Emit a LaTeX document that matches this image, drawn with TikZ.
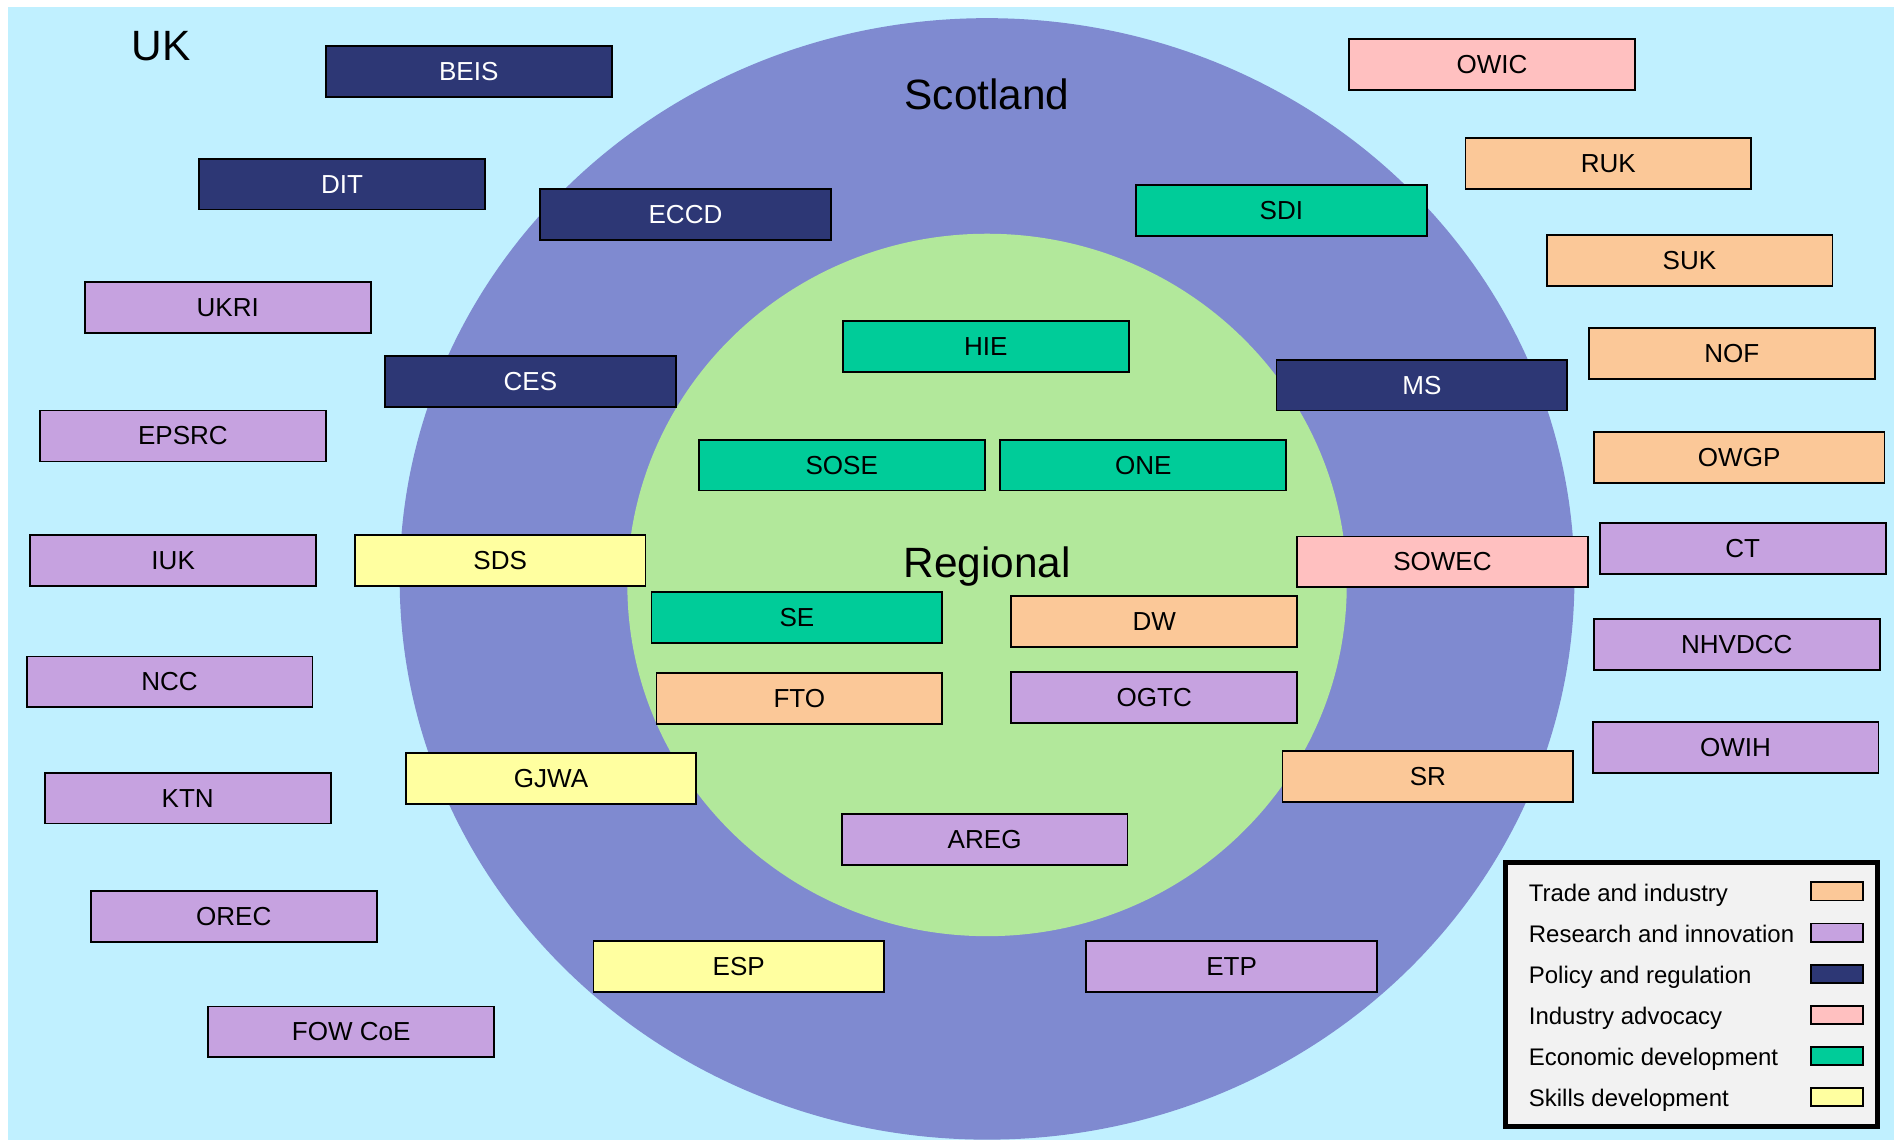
\documentclass[tikz,border=0pt]{standalone}
\usepackage{fontspec}
\setmainfont{Liberation Sans}
\definecolor{bgc}{HTML}{C0F0FF}
\definecolor{scotc}{HTML}{7F8AD0}
\definecolor{regc}{HTML}{B2E89B}
\definecolor{tradec}{HTML}{FBC898}
\definecolor{resc}{HTML}{C6A2E0}
\definecolor{polc}{HTML}{2D3775}
\definecolor{advc}{HTML}{FFC0C0}
\definecolor{econc}{HTML}{00CC99}
\definecolor{skillc}{HTML}{FFFFA0}
\definecolor{legc}{HTML}{F2F2F2}
\begin{document}
\begin{tikzpicture}[x=0.5pt,y=-0.5pt,
  box/.style={draw=black, line width=0.75pt, minimum width=118pt, minimum height=21pt, inner sep=0pt, font=\fontsize{10.75}{12}\selectfont},
  wide/.style={minimum width=120pt},
  trade/.style={box, fill=tradec},
  res/.style={box, fill=resc},
  pol/.style={box, fill=polc, text=white},
  adv/.style={box, fill=advc},
  econ/.style={box, fill=econc},
  skill/.style={box, fill=skillc},
  region/.style={font=\fontsize{17.5}{20}\selectfont},
  legtext/.style={anchor=base west, inner sep=0pt, font=\fontsize{9.9}{12}\selectfont},
  swatch/.style={draw=black, line width=0.75pt, minimum width=21.5pt, minimum height=7.5pt, inner sep=0pt}]
\useasboundingbox (0,0) rectangle (1568,945);
\fill[white] (0,0) rectangle (1568,945);
\fill[bgc] (7,6) rectangle (1564,941);
\fill[scotc] (815,478) ellipse [x radius=242.5pt, y radius=231.5pt];
\fill[regc] (815,483) ellipse [x radius=148.5pt, y radius=145pt];
% titles
\node[region] (uk) at (133,38) {UK};
\node[region] (scotland) at (815,78) {Scotland};
\node[region] (regional) at (815,468) {Regional};
% left
\node[pol] (beis) at (387,59) {BEIS};
\node[pol] (dit) at (282.5,152) {DIT};
\node[pol,wide] (eccd) at (566,177) {ECCD};
\node[res] (ukri) at (188,254) {UKRI};
\node[pol,wide] (ces) at (438,315) {CES};
\node[res] (epsrc) at (151,360) {EPSRC};
\node[res] (iuk) at (143,463) {IUK};
\node[skill,wide] (sds) at (413,463) {SDS};
\node[res] (ncc) at (140,563) {NCC};
\node[skill,wide] (gjwa) at (455,643) {GJWA};
\node[res] (ktn) at (155,659) {KTN};
\node[res] (orec) at (193,757) {OREC};
\node[res] (fowcoe) at (290,852) {FOW CoE};
\node[skill,wide] (esp) at (610,798) {ESP};
% centre
\node[econ] (hie) at (814,286) {HIE};
\node[econ] (sose) at (695,384) {SOSE};
\node[econ] (one) at (944,384) {ONE};
\node[econ,wide] (se) at (658,510) {SE};
\node[trade] (dw) at (953,513) {DW};
\node[trade] (fto) at (660,577) {FTO};
\node[res] (ogtc) at (953,576) {OGTC};
\node[res] (areg) at (813,693) {AREG};
\node[res,wide] (etp) at (1017,798) {ETP};
% right
\node[adv] (owic) at (1232,53) {OWIC};
\node[trade] (ruk) at (1328,135) {RUK};
\node[econ,wide] (sdi) at (1058,174) {SDI};
\node[trade] (suk) at (1395,215) {SUK};
\node[trade] (nof) at (1430,292) {NOF};
\node[pol,wide] (ms) at (1174,318) {MS};
\node[trade,wide] (owgp) at (1436,378) {OWGP};
\node[res] (ct) at (1439,453) {CT};
\node[adv,wide] (sowec) at (1191,464) {SOWEC};
\node[res] (nhvdcc) at (1434,532) {NHVDCC};
\node[res] (owih) at (1433,617) {OWIH};
\node[trade,wide] (sr) at (1179,641) {SR};
% legend
\node[draw=black, line width=2pt, fill=legc, minimum width=153.5pt, minimum height=109pt, inner sep=0pt] (legend) at (1396.5,821) {};
\node[legtext] (l1) at (1262,744) {Trade and industry};
\node[legtext] (l2) at (1262,778) {Research and innovation};
\node[legtext] (l3) at (1262,812) {Policy and regulation};
\node[legtext] (l4) at (1262,846) {Industry advocacy};
\node[legtext] (l5) at (1262,880) {Economic development};
\node[legtext] (l6) at (1262,914) {Skills development};
\node[swatch, fill=tradec] (s1) at (1516.5,736) {};
\node[swatch, fill=resc] (s2) at (1516.5,770) {};
\node[swatch, fill=polc] (s3) at (1516.5,804) {};
\node[swatch, fill=advc] (s4) at (1516.5,838) {};
\node[swatch, fill=econc] (s5) at (1516.5,872) {};
\node[swatch, fill=skillc] (s6) at (1516.5,906) {};
\end{tikzpicture}
\end{document}
